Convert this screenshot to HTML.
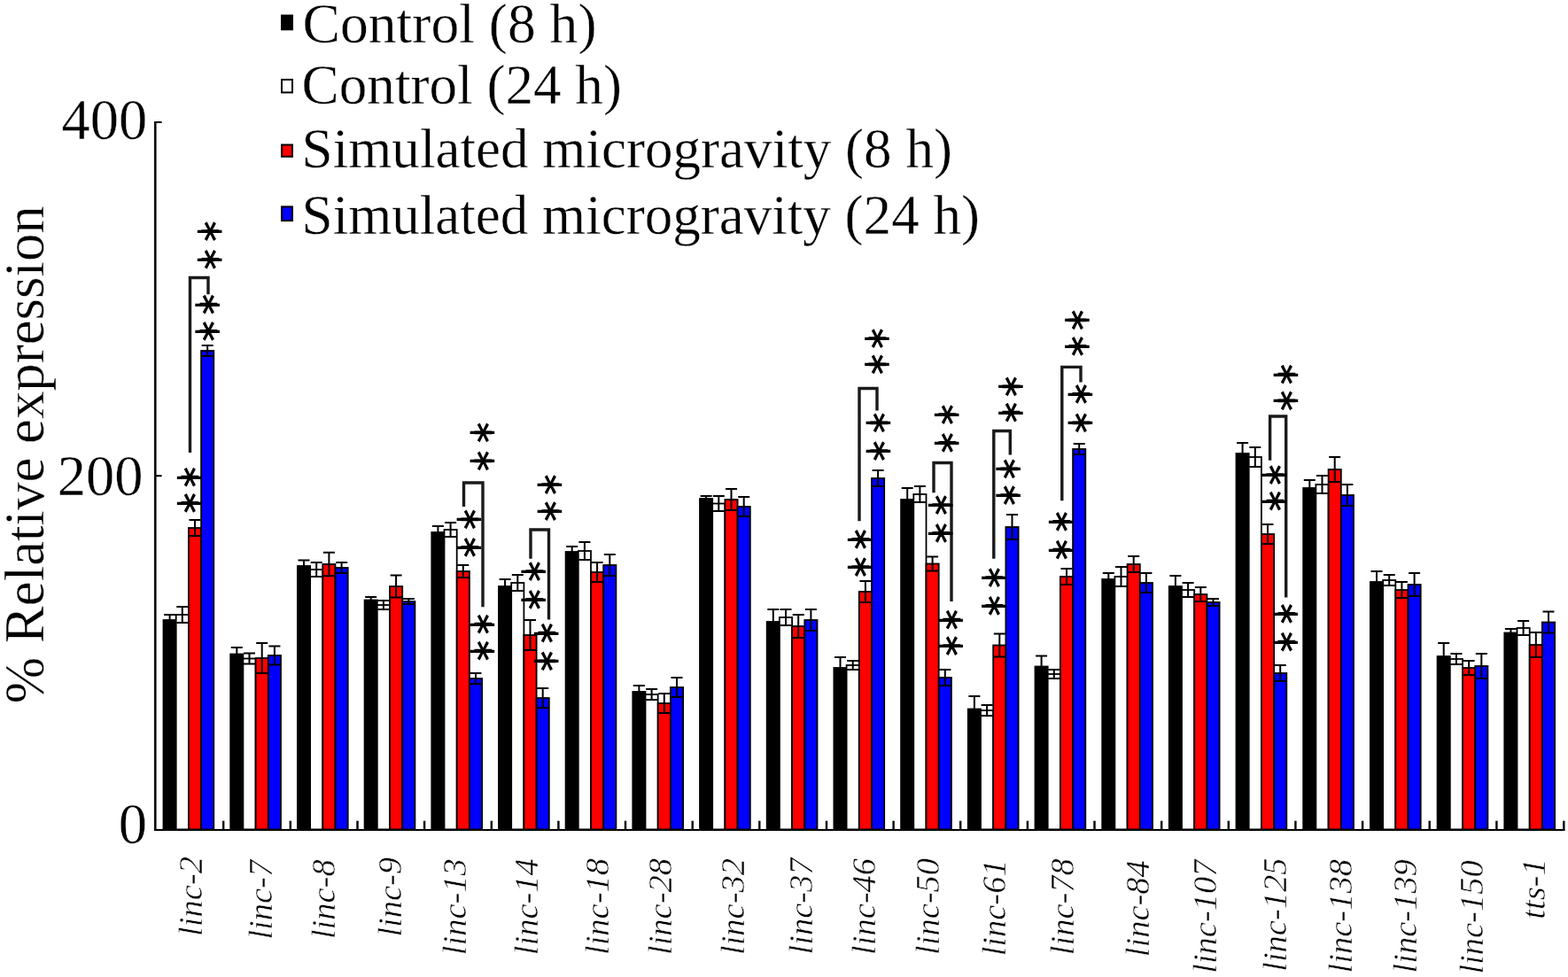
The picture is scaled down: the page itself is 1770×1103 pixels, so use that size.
<!DOCTYPE html><html><head><meta charset="utf-8"><title>Relative expression chart</title><style>
html,body{margin:0;padding:0;background:#fff;}svg{display:block;}
text{font-family:"Liberation Serif","Times New Roman",serif;fill:#000;}.big{stroke:#fff;stroke-width:0.4px;}
.st{font-family:"DejaVu Sans",sans-serif;stroke:#000;stroke-width:2.5px;}.sd{font-family:"DejaVu Sans",sans-serif;}
</style></head><body>
<svg width="1770" height="1103" viewBox="0 0 1770 1103">
<rect width="1770" height="1103" fill="#fff"/>
<rect x="318" y="17.5" width="12" height="15.8" fill="#000" stroke="#000" stroke-width="2"/>
<text class="big" x="341.6" y="48.2" font-size="62.6" textLength="332.0" lengthAdjust="spacingAndGlyphs">Control (8 h)</text>
<rect x="318" y="89.9" width="12" height="14.5" fill="#fff" stroke="#000" stroke-width="2"/>
<text class="big" x="340.6" y="116.8" font-size="62.6" textLength="361.4" lengthAdjust="spacingAndGlyphs">Control (24 h)</text>
<rect x="318" y="163.5" width="12" height="13.3" fill="#ff0000" stroke="#000" stroke-width="2"/>
<text class="big" x="340.6" y="188.6" font-size="62.6" textLength="734.4" lengthAdjust="spacingAndGlyphs">Simulated microgravity (8 h)</text>
<rect x="318" y="233.4" width="12" height="15.7" fill="#0000ff" stroke="#000" stroke-width="2"/>
<text class="big" x="340.6" y="263.5" font-size="62.6" textLength="765.4" lengthAdjust="spacingAndGlyphs">Simulated microgravity (24 h)</text>
<g stroke="#000" fill="none">
<line x1="175.3" y1="137" x2="175.3" y2="938" stroke-width="2.5"/>
<line x1="174" y1="937" x2="1766.5" y2="937" stroke-width="2.2"/>
<line x1="175" y1="138" x2="182.6" y2="138" stroke-width="2"/>
<line x1="175" y1="537.2" x2="182.6" y2="537.2" stroke-width="2"/>
<line x1="252.2" y1="926.7" x2="252.2" y2="937" stroke-width="2.4"/>
<line x1="327.8" y1="926.7" x2="327.8" y2="937" stroke-width="2.4"/>
<line x1="403.5" y1="926.7" x2="403.5" y2="937" stroke-width="2.4"/>
<line x1="479.1" y1="926.7" x2="479.1" y2="937" stroke-width="2.4"/>
<line x1="554.8" y1="926.7" x2="554.8" y2="937" stroke-width="2.4"/>
<line x1="630.4" y1="926.7" x2="630.4" y2="937" stroke-width="2.4"/>
<line x1="706.0" y1="926.7" x2="706.0" y2="937" stroke-width="2.4"/>
<line x1="781.7" y1="926.7" x2="781.7" y2="937" stroke-width="2.4"/>
<line x1="857.3" y1="926.7" x2="857.3" y2="937" stroke-width="2.4"/>
<line x1="933.0" y1="926.7" x2="933.0" y2="937" stroke-width="2.4"/>
<line x1="1008.6" y1="926.7" x2="1008.6" y2="937" stroke-width="2.4"/>
<line x1="1084.2" y1="926.7" x2="1084.2" y2="937" stroke-width="2.4"/>
<line x1="1159.9" y1="926.7" x2="1159.9" y2="937" stroke-width="2.4"/>
<line x1="1235.5" y1="926.7" x2="1235.5" y2="937" stroke-width="2.4"/>
<line x1="1311.2" y1="926.7" x2="1311.2" y2="937" stroke-width="2.4"/>
<line x1="1386.8" y1="926.7" x2="1386.8" y2="937" stroke-width="2.4"/>
<line x1="1462.4" y1="926.7" x2="1462.4" y2="937" stroke-width="2.4"/>
<line x1="1538.1" y1="926.7" x2="1538.1" y2="937" stroke-width="2.4"/>
<line x1="1613.7" y1="926.7" x2="1613.7" y2="937" stroke-width="2.4"/>
<line x1="1689.4" y1="926.7" x2="1689.4" y2="937" stroke-width="2.4"/>
<line x1="1765.3" y1="926.7" x2="1765.3" y2="937" stroke-width="2.4"/>
</g>
<text class="big" x="166.3" y="157.2" font-size="64.5" text-anchor="end">400</text>
<text class="big" x="161.5" y="558.6" font-size="64.5" text-anchor="end">200</text>
<text class="big" x="166" y="951.5" font-size="64.5" text-anchor="end">0</text>
<text class="big" transform="translate(48.9,794.2) rotate(-90)" font-size="62.6" textLength="562" lengthAdjust="spacingAndGlyphs">% Relative expression</text>
<g stroke="#000" stroke-width="1.8">
<rect x="184.5" y="700.0" width="14.2" height="236.4" fill="#000"/>
<rect x="198.7" y="694.0" width="14.2" height="242.4" fill="#fff"/>
<rect x="212.9" y="596.0" width="14.2" height="340.4" fill="#ff0000"/>
<rect x="227.1" y="396.0" width="14.2" height="540.4" fill="#0000ff"/>
<rect x="260.2" y="738.5" width="14.2" height="197.9" fill="#000"/>
<rect x="274.4" y="743.5" width="14.2" height="192.9" fill="#fff"/>
<rect x="288.6" y="743.0" width="14.2" height="193.4" fill="#ff0000"/>
<rect x="302.8" y="740.0" width="14.2" height="196.4" fill="#0000ff"/>
<rect x="335.9" y="639.0" width="14.2" height="297.4" fill="#000"/>
<rect x="350.1" y="643.0" width="14.2" height="293.4" fill="#fff"/>
<rect x="364.3" y="637.0" width="14.2" height="299.4" fill="#ff0000"/>
<rect x="378.5" y="641.0" width="14.2" height="295.4" fill="#0000ff"/>
<rect x="411.6" y="677.5" width="14.2" height="258.9" fill="#000"/>
<rect x="425.8" y="683.0" width="14.2" height="253.4" fill="#fff"/>
<rect x="440.0" y="662.0" width="14.2" height="274.4" fill="#ff0000"/>
<rect x="454.2" y="679.0" width="14.2" height="257.4" fill="#0000ff"/>
<rect x="487.3" y="601.0" width="14.2" height="335.4" fill="#000"/>
<rect x="501.5" y="598.0" width="14.2" height="338.4" fill="#fff"/>
<rect x="515.7" y="645.0" width="14.2" height="291.4" fill="#ff0000"/>
<rect x="529.9" y="766.0" width="14.2" height="170.4" fill="#0000ff"/>
<rect x="563.0" y="662.0" width="14.2" height="274.4" fill="#000"/>
<rect x="577.2" y="658.0" width="14.2" height="278.4" fill="#fff"/>
<rect x="591.4" y="717.0" width="14.2" height="219.4" fill="#ff0000"/>
<rect x="605.6" y="788.0" width="14.2" height="148.4" fill="#0000ff"/>
<rect x="638.6" y="623.0" width="14.2" height="313.4" fill="#000"/>
<rect x="652.8" y="622.0" width="14.2" height="314.4" fill="#fff"/>
<rect x="667.0" y="646.0" width="14.2" height="290.4" fill="#ff0000"/>
<rect x="681.2" y="638.0" width="14.2" height="298.4" fill="#0000ff"/>
<rect x="714.3" y="781.0" width="14.2" height="155.4" fill="#000"/>
<rect x="728.5" y="784.0" width="14.2" height="152.4" fill="#fff"/>
<rect x="742.7" y="794.0" width="14.2" height="142.4" fill="#ff0000"/>
<rect x="756.9" y="776.0" width="14.2" height="160.4" fill="#0000ff"/>
<rect x="790.0" y="563.0" width="14.2" height="373.4" fill="#000"/>
<rect x="804.2" y="568.5" width="14.2" height="367.9" fill="#fff"/>
<rect x="818.4" y="564.0" width="14.2" height="372.4" fill="#ff0000"/>
<rect x="832.6" y="572.0" width="14.2" height="364.4" fill="#0000ff"/>
<rect x="865.7" y="702.0" width="14.2" height="234.4" fill="#000"/>
<rect x="879.9" y="697.0" width="14.2" height="239.4" fill="#fff"/>
<rect x="894.1" y="707.0" width="14.2" height="229.4" fill="#ff0000"/>
<rect x="908.3" y="700.0" width="14.2" height="236.4" fill="#0000ff"/>
<rect x="941.4" y="754.0" width="14.2" height="182.4" fill="#000"/>
<rect x="955.6" y="751.0" width="14.2" height="185.4" fill="#fff"/>
<rect x="969.8" y="668.0" width="14.2" height="268.4" fill="#ff0000"/>
<rect x="984.0" y="540.0" width="14.2" height="396.4" fill="#0000ff"/>
<rect x="1017.1" y="564.0" width="14.2" height="372.4" fill="#000"/>
<rect x="1031.3" y="558.0" width="14.2" height="378.4" fill="#fff"/>
<rect x="1045.5" y="636.5" width="14.2" height="299.9" fill="#ff0000"/>
<rect x="1059.7" y="765.0" width="14.2" height="171.4" fill="#0000ff"/>
<rect x="1092.8" y="800.5" width="14.2" height="135.9" fill="#000"/>
<rect x="1107.0" y="802.0" width="14.2" height="134.4" fill="#fff"/>
<rect x="1121.2" y="728.5" width="14.2" height="207.9" fill="#ff0000"/>
<rect x="1135.4" y="595.0" width="14.2" height="341.4" fill="#0000ff"/>
<rect x="1168.5" y="752.5" width="14.2" height="183.9" fill="#000"/>
<rect x="1182.7" y="761.0" width="14.2" height="175.4" fill="#fff"/>
<rect x="1196.9" y="651.0" width="14.2" height="285.4" fill="#ff0000"/>
<rect x="1211.1" y="507.0" width="14.2" height="429.4" fill="#0000ff"/>
<rect x="1244.2" y="654.0" width="14.2" height="282.4" fill="#000"/>
<rect x="1258.4" y="651.0" width="14.2" height="285.4" fill="#fff"/>
<rect x="1272.6" y="637.0" width="14.2" height="299.4" fill="#ff0000"/>
<rect x="1286.8" y="658.0" width="14.2" height="278.4" fill="#0000ff"/>
<rect x="1319.8" y="662.0" width="14.2" height="274.4" fill="#000"/>
<rect x="1334.0" y="666.0" width="14.2" height="270.4" fill="#fff"/>
<rect x="1348.2" y="671.0" width="14.2" height="265.4" fill="#ff0000"/>
<rect x="1362.4" y="680.0" width="14.2" height="256.4" fill="#0000ff"/>
<rect x="1395.5" y="512.0" width="14.2" height="424.4" fill="#000"/>
<rect x="1409.7" y="516.0" width="14.2" height="420.4" fill="#fff"/>
<rect x="1423.9" y="603.0" width="14.2" height="333.4" fill="#ff0000"/>
<rect x="1438.1" y="760.0" width="14.2" height="176.4" fill="#0000ff"/>
<rect x="1471.2" y="551.0" width="14.2" height="385.4" fill="#000"/>
<rect x="1485.4" y="547.0" width="14.2" height="389.4" fill="#fff"/>
<rect x="1499.6" y="530.0" width="14.2" height="406.4" fill="#ff0000"/>
<rect x="1513.8" y="559.0" width="14.2" height="377.4" fill="#0000ff"/>
<rect x="1546.9" y="657.0" width="14.2" height="279.4" fill="#000"/>
<rect x="1561.1" y="655.0" width="14.2" height="281.4" fill="#fff"/>
<rect x="1575.3" y="666.0" width="14.2" height="270.4" fill="#ff0000"/>
<rect x="1589.5" y="660.0" width="14.2" height="276.4" fill="#0000ff"/>
<rect x="1622.6" y="741.0" width="14.2" height="195.4" fill="#000"/>
<rect x="1636.8" y="744.0" width="14.2" height="192.4" fill="#fff"/>
<rect x="1651.0" y="754.0" width="14.2" height="182.4" fill="#ff0000"/>
<rect x="1665.2" y="752.0" width="14.2" height="184.4" fill="#0000ff"/>
<rect x="1698.3" y="714.5" width="14.2" height="221.9" fill="#000"/>
<rect x="1712.5" y="709.0" width="14.2" height="227.4" fill="#fff"/>
<rect x="1726.7" y="728.0" width="14.2" height="208.4" fill="#ff0000"/>
<rect x="1740.9" y="702.5" width="14.2" height="233.9" fill="#0000ff"/>
</g>
<g stroke="#000" stroke-width="2" fill="none">
<path d="M191.6 694.0V706.0M185.1 694.0h13.0M185.1 706.0h13.0"/>
<path d="M205.8 685.0V703.0M199.3 685.0h13.0M199.3 703.0h13.0"/>
<path d="M220.0 587.0V605.0M213.5 587.0h13.0M213.5 605.0h13.0"/>
<path d="M234.2 390.0V402.0M227.7 390.0h13.0M227.7 402.0h13.0"/>
<path d="M267.3 731.0V746.0M260.8 731.0h13.0M260.8 746.0h13.0"/>
<path d="M281.5 737.5V749.5M275.0 737.5h13.0M275.0 749.5h13.0"/>
<path d="M295.7 726.0V760.0M289.2 726.0h13.0M289.2 760.0h13.0"/>
<path d="M309.9 729.5V750.5M303.4 729.5h13.0M303.4 750.5h13.0"/>
<path d="M343.0 632.6V645.4M336.5 632.6h13.0M336.5 645.4h13.0"/>
<path d="M357.2 635.0V651.0M350.7 635.0h13.0M350.7 651.0h13.0"/>
<path d="M371.4 623.7V650.3M364.9 623.7h13.0M364.9 650.3h13.0"/>
<path d="M385.6 635.0V647.0M379.1 635.0h13.0M379.1 647.0h13.0"/>
<path d="M418.7 674.0V681.0M412.2 674.0h13.0M412.2 681.0h13.0"/>
<path d="M432.9 678.0V688.0M426.4 678.0h13.0M426.4 688.0h13.0"/>
<path d="M447.1 649.5V674.5M440.6 649.5h13.0M440.6 674.5h13.0"/>
<path d="M461.3 676.0V682.0M454.8 676.0h13.0M454.8 682.0h13.0"/>
<path d="M494.4 594.0V608.0M487.9 594.0h13.0M487.9 608.0h13.0"/>
<path d="M508.6 590.0V606.0M502.1 590.0h13.0M502.1 606.0h13.0"/>
<path d="M522.8 638.0V652.0M516.3 638.0h13.0M516.3 652.0h13.0"/>
<path d="M537.0 760.0V772.0M530.5 760.0h13.0M530.5 772.0h13.0"/>
<path d="M570.1 654.0V670.0M563.6 654.0h13.0M563.6 670.0h13.0"/>
<path d="M584.3 649.0V667.0M577.8 649.0h13.0M577.8 667.0h13.0"/>
<path d="M598.5 700.0V734.0M592.0 700.0h13.0M592.0 734.0h13.0"/>
<path d="M612.7 777.0V799.0M606.2 777.0h13.0M606.2 799.0h13.0"/>
<path d="M645.7 617.0V629.0M639.2 617.0h13.0M639.2 629.0h13.0"/>
<path d="M659.9 612.0V632.0M653.4 612.0h13.0M653.4 632.0h13.0"/>
<path d="M674.1 635.0V657.0M667.6 635.0h13.0M667.6 657.0h13.0"/>
<path d="M688.3 626.0V650.0M681.8 626.0h13.0M681.8 650.0h13.0"/>
<path d="M721.4 774.0V788.0M714.9 774.0h13.0M714.9 788.0h13.0"/>
<path d="M735.6 778.0V790.0M729.1 778.0h13.0M729.1 790.0h13.0"/>
<path d="M749.8 783.0V805.0M743.3 783.0h13.0M743.3 805.0h13.0"/>
<path d="M764.0 765.0V787.0M757.5 765.0h13.0M757.5 787.0h13.0"/>
<path d="M797.1 560.0V566.0M790.6 560.0h13.0M790.6 566.0h13.0"/>
<path d="M811.3 560.0V577.0M804.8 560.0h13.0M804.8 577.0h13.0"/>
<path d="M825.5 552.0V576.0M819.0 552.0h13.0M819.0 576.0h13.0"/>
<path d="M839.7 561.0V583.0M833.2 561.0h13.0M833.2 583.0h13.0"/>
<path d="M872.8 688.0V716.0M866.3 688.0h13.0M866.3 716.0h13.0"/>
<path d="M887.0 688.0V706.0M880.5 688.0h13.0M880.5 706.0h13.0"/>
<path d="M901.2 694.0V720.0M894.7 694.0h13.0M894.7 720.0h13.0"/>
<path d="M915.4 688.0V712.0M908.9 688.0h13.0M908.9 712.0h13.0"/>
<path d="M948.5 742.0V766.0M942.0 742.0h13.0M942.0 766.0h13.0"/>
<path d="M962.7 746.0V756.0M956.2 746.0h13.0M956.2 756.0h13.0"/>
<path d="M976.9 656.0V680.0M970.4 656.0h13.0M970.4 680.0h13.0"/>
<path d="M991.1 531.0V549.0M984.6 531.0h13.0M984.6 549.0h13.0"/>
<path d="M1024.2 551.0V577.0M1017.7 551.0h13.0M1017.7 577.0h13.0"/>
<path d="M1038.4 549.0V567.0M1031.9 549.0h13.0M1031.9 567.0h13.0"/>
<path d="M1052.6 628.5V644.5M1046.1 628.5h13.0M1046.1 644.5h13.0"/>
<path d="M1066.8 756.0V774.0M1060.3 756.0h13.0M1060.3 774.0h13.0"/>
<path d="M1099.9 786.0V815.0M1093.4 786.0h13.0M1093.4 815.0h13.0"/>
<path d="M1114.1 796.0V808.0M1107.6 796.0h13.0M1107.6 808.0h13.0"/>
<path d="M1128.3 715.5V741.5M1121.8 715.5h13.0M1121.8 741.5h13.0"/>
<path d="M1142.5 581.0V609.0M1136.0 581.0h13.0M1136.0 609.0h13.0"/>
<path d="M1175.6 740.5V764.5M1169.1 740.5h13.0M1169.1 764.5h13.0"/>
<path d="M1189.8 756.0V766.0M1183.3 756.0h13.0M1183.3 766.0h13.0"/>
<path d="M1204.0 642.0V660.0M1197.5 642.0h13.0M1197.5 660.0h13.0"/>
<path d="M1218.2 501.0V513.0M1211.7 501.0h13.0M1211.7 513.0h13.0"/>
<path d="M1251.3 647.0V661.0M1244.8 647.0h13.0M1244.8 661.0h13.0"/>
<path d="M1265.5 640.0V662.0M1259.0 640.0h13.0M1259.0 662.0h13.0"/>
<path d="M1279.7 628.0V646.0M1273.2 628.0h13.0M1273.2 646.0h13.0"/>
<path d="M1293.9 647.0V669.0M1287.4 647.0h13.0M1287.4 669.0h13.0"/>
<path d="M1326.9 650.0V674.0M1320.4 650.0h13.0M1320.4 674.0h13.0"/>
<path d="M1341.1 658.0V674.0M1334.6 658.0h13.0M1334.6 674.0h13.0"/>
<path d="M1355.3 663.0V679.0M1348.8 663.0h13.0M1348.8 679.0h13.0"/>
<path d="M1369.5 676.0V684.0M1363.0 676.0h13.0M1363.0 684.0h13.0"/>
<path d="M1402.6 500.0V524.0M1396.1 500.0h13.0M1396.1 524.0h13.0"/>
<path d="M1416.8 505.0V527.0M1410.3 505.0h13.0M1410.3 527.0h13.0"/>
<path d="M1431.0 592.0V614.0M1424.5 592.0h13.0M1424.5 614.0h13.0"/>
<path d="M1445.2 751.0V769.0M1438.7 751.0h13.0M1438.7 769.0h13.0"/>
<path d="M1478.3 542.0V560.0M1471.8 542.0h13.0M1471.8 560.0h13.0"/>
<path d="M1492.5 537.0V557.0M1486.0 537.0h13.0M1486.0 557.0h13.0"/>
<path d="M1506.7 516.0V544.0M1500.2 516.0h13.0M1500.2 544.0h13.0"/>
<path d="M1520.9 547.0V571.0M1514.4 547.0h13.0M1514.4 571.0h13.0"/>
<path d="M1554.0 645.0V669.0M1547.5 645.0h13.0M1547.5 669.0h13.0"/>
<path d="M1568.2 649.0V661.0M1561.7 649.0h13.0M1561.7 661.0h13.0"/>
<path d="M1582.4 657.0V675.0M1575.9 657.0h13.0M1575.9 675.0h13.0"/>
<path d="M1596.6 647.0V673.0M1590.1 647.0h13.0M1590.1 673.0h13.0"/>
<path d="M1629.7 726.0V756.0M1623.2 726.0h13.0M1623.2 756.0h13.0"/>
<path d="M1643.9 738.0V750.0M1637.4 738.0h13.0M1637.4 750.0h13.0"/>
<path d="M1658.1 746.0V762.0M1651.6 746.0h13.0M1651.6 762.0h13.0"/>
<path d="M1672.3 738.0V766.0M1665.8 738.0h13.0M1665.8 766.0h13.0"/>
<path d="M1705.4 710.0V719.0M1698.9 710.0h13.0M1698.9 719.0h13.0"/>
<path d="M1719.6 701.0V717.0M1713.1 701.0h13.0M1713.1 717.0h13.0"/>
<path d="M1733.8 714.0V742.0M1727.3 714.0h13.0M1727.3 742.0h13.0"/>
<path d="M1748.0 690.5V714.5M1741.5 690.5h13.0M1741.5 714.5h13.0"/>
</g>
<g stroke="#1a1a1a" stroke-width="3.4" fill="none">
<path d="M214.5 510.9V313.5H235V332.2"/>
<path d="M523.5 572V545H545V685.2"/>
<path d="M599 630.7V598H619.5V699.6"/>
<path d="M970 588.3V438.5H990V463.4"/>
<path d="M1054 556.3V522.5H1074V679"/>
<path d="M1121.8 630.7V486.5H1140.3V513.4"/>
<path d="M1198.8 565.3V414.4H1220V431.6"/>
<path d="M1433.6 519.7V470H1451.7V674.4"/>
</g>
<g transform="translate(236.6,261.2)"><text class="st" transform="scale(0.4,0.456) rotate(90)" font-size="100" text-anchor="middle" dy="0.5145em">*</text><text class="sd" transform="scale(0.686,0.47)" font-size="100" text-anchor="middle" dy="0.2745em">–</text></g>
<g transform="translate(236.6,293)"><text class="st" transform="scale(0.4,0.456) rotate(90)" font-size="100" text-anchor="middle" dy="0.5145em">*</text><text class="sd" transform="scale(0.686,0.47)" font-size="100" text-anchor="middle" dy="0.2745em">–</text></g>
<g transform="translate(234.2,343.7)"><text class="st" transform="scale(0.4,0.456) rotate(90)" font-size="100" text-anchor="middle" dy="0.5145em">*</text><text class="sd" transform="scale(0.686,0.47)" font-size="100" text-anchor="middle" dy="0.2745em">–</text></g>
<g transform="translate(234.2,374)"><text class="st" transform="scale(0.4,0.456) rotate(90)" font-size="100" text-anchor="middle" dy="0.5145em">*</text><text class="sd" transform="scale(0.686,0.47)" font-size="100" text-anchor="middle" dy="0.2745em">–</text></g>
<g transform="translate(213.7,538.7)"><text class="st" transform="scale(0.4,0.456) rotate(90)" font-size="100" text-anchor="middle" dy="0.5145em">*</text><text class="sd" transform="scale(0.686,0.47)" font-size="100" text-anchor="middle" dy="0.2745em">–</text></g>
<g transform="translate(213.7,568)"><text class="st" transform="scale(0.4,0.456) rotate(90)" font-size="100" text-anchor="middle" dy="0.5145em">*</text><text class="sd" transform="scale(0.686,0.47)" font-size="100" text-anchor="middle" dy="0.2745em">–</text></g>
<g transform="translate(544.3,488.3)"><text class="st" transform="scale(0.4,0.456) rotate(90)" font-size="100" text-anchor="middle" dy="0.5145em">*</text><text class="sd" transform="scale(0.686,0.47)" font-size="100" text-anchor="middle" dy="0.2745em">–</text></g>
<g transform="translate(544.3,520.4)"><text class="st" transform="scale(0.4,0.456) rotate(90)" font-size="100" text-anchor="middle" dy="0.5145em">*</text><text class="sd" transform="scale(0.686,0.47)" font-size="100" text-anchor="middle" dy="0.2745em">–</text></g>
<g transform="translate(529.4,586.3)"><text class="st" transform="scale(0.4,0.456) rotate(90)" font-size="100" text-anchor="middle" dy="0.5145em">*</text><text class="sd" transform="scale(0.686,0.47)" font-size="100" text-anchor="middle" dy="0.2745em">–</text></g>
<g transform="translate(529.4,618)"><text class="st" transform="scale(0.4,0.456) rotate(90)" font-size="100" text-anchor="middle" dy="0.5145em">*</text><text class="sd" transform="scale(0.686,0.47)" font-size="100" text-anchor="middle" dy="0.2745em">–</text></g>
<g transform="translate(544.4,704.6)"><text class="st" transform="scale(0.4,0.456) rotate(90)" font-size="100" text-anchor="middle" dy="0.5145em">*</text><text class="sd" transform="scale(0.686,0.47)" font-size="100" text-anchor="middle" dy="0.2745em">–</text></g>
<g transform="translate(544.4,734.7)"><text class="st" transform="scale(0.4,0.456) rotate(90)" font-size="100" text-anchor="middle" dy="0.5145em">*</text><text class="sd" transform="scale(0.686,0.47)" font-size="100" text-anchor="middle" dy="0.2745em">–</text></g>
<g transform="translate(620.4,547.2)"><text class="st" transform="scale(0.4,0.456) rotate(90)" font-size="100" text-anchor="middle" dy="0.5145em">*</text><text class="sd" transform="scale(0.686,0.47)" font-size="100" text-anchor="middle" dy="0.2745em">–</text></g>
<g transform="translate(620.4,577.2)"><text class="st" transform="scale(0.4,0.456) rotate(90)" font-size="100" text-anchor="middle" dy="0.5145em">*</text><text class="sd" transform="scale(0.686,0.47)" font-size="100" text-anchor="middle" dy="0.2745em">–</text></g>
<g transform="translate(602.2,645.2)"><text class="st" transform="scale(0.4,0.456) rotate(90)" font-size="100" text-anchor="middle" dy="0.5145em">*</text><text class="sd" transform="scale(0.686,0.47)" font-size="100" text-anchor="middle" dy="0.2745em">–</text></g>
<g transform="translate(602.2,676.9)"><text class="st" transform="scale(0.4,0.456) rotate(90)" font-size="100" text-anchor="middle" dy="0.5145em">*</text><text class="sd" transform="scale(0.686,0.47)" font-size="100" text-anchor="middle" dy="0.2745em">–</text></g>
<g transform="translate(616.7,714.6)"><text class="st" transform="scale(0.4,0.456) rotate(90)" font-size="100" text-anchor="middle" dy="0.5145em">*</text><text class="sd" transform="scale(0.686,0.47)" font-size="100" text-anchor="middle" dy="0.2745em">–</text></g>
<g transform="translate(616.7,746.5)"><text class="st" transform="scale(0.4,0.456) rotate(90)" font-size="100" text-anchor="middle" dy="0.5145em">*</text><text class="sd" transform="scale(0.686,0.47)" font-size="100" text-anchor="middle" dy="0.2745em">–</text></g>
<g transform="translate(989.9,382.2)"><text class="st" transform="scale(0.4,0.456) rotate(90)" font-size="100" text-anchor="middle" dy="0.5145em">*</text><text class="sd" transform="scale(0.686,0.47)" font-size="100" text-anchor="middle" dy="0.2745em">–</text></g>
<g transform="translate(989.9,411.3)"><text class="st" transform="scale(0.4,0.456) rotate(90)" font-size="100" text-anchor="middle" dy="0.5145em">*</text><text class="sd" transform="scale(0.686,0.47)" font-size="100" text-anchor="middle" dy="0.2745em">–</text></g>
<g transform="translate(991.3,477.5)"><text class="st" transform="scale(0.4,0.456) rotate(90)" font-size="100" text-anchor="middle" dy="0.5145em">*</text><text class="sd" transform="scale(0.686,0.47)" font-size="100" text-anchor="middle" dy="0.2745em">–</text></g>
<g transform="translate(991.3,509.2)"><text class="st" transform="scale(0.4,0.456) rotate(90)" font-size="100" text-anchor="middle" dy="0.5145em">*</text><text class="sd" transform="scale(0.686,0.47)" font-size="100" text-anchor="middle" dy="0.2745em">–</text></g>
<g transform="translate(970.7,609)"><text class="st" transform="scale(0.4,0.456) rotate(90)" font-size="100" text-anchor="middle" dy="0.5145em">*</text><text class="sd" transform="scale(0.686,0.47)" font-size="100" text-anchor="middle" dy="0.2745em">–</text></g>
<g transform="translate(970.7,640.2)"><text class="st" transform="scale(0.4,0.456) rotate(90)" font-size="100" text-anchor="middle" dy="0.5145em">*</text><text class="sd" transform="scale(0.686,0.47)" font-size="100" text-anchor="middle" dy="0.2745em">–</text></g>
<g transform="translate(1068.6,468.1)"><text class="st" transform="scale(0.4,0.456) rotate(90)" font-size="100" text-anchor="middle" dy="0.5145em">*</text><text class="sd" transform="scale(0.686,0.47)" font-size="100" text-anchor="middle" dy="0.2745em">–</text></g>
<g transform="translate(1068.6,499.9)"><text class="st" transform="scale(0.4,0.456) rotate(90)" font-size="100" text-anchor="middle" dy="0.5145em">*</text><text class="sd" transform="scale(0.686,0.47)" font-size="100" text-anchor="middle" dy="0.2745em">–</text></g>
<g transform="translate(1061.7,570.2)"><text class="st" transform="scale(0.4,0.456) rotate(90)" font-size="100" text-anchor="middle" dy="0.5145em">*</text><text class="sd" transform="scale(0.686,0.47)" font-size="100" text-anchor="middle" dy="0.2745em">–</text></g>
<g transform="translate(1061.7,601.9)"><text class="st" transform="scale(0.4,0.456) rotate(90)" font-size="100" text-anchor="middle" dy="0.5145em">*</text><text class="sd" transform="scale(0.686,0.47)" font-size="100" text-anchor="middle" dy="0.2745em">–</text></g>
<g transform="translate(1073.2,699.7)"><text class="st" transform="scale(0.4,0.456) rotate(90)" font-size="100" text-anchor="middle" dy="0.5145em">*</text><text class="sd" transform="scale(0.686,0.47)" font-size="100" text-anchor="middle" dy="0.2745em">–</text></g>
<g transform="translate(1073.2,729.2)"><text class="st" transform="scale(0.4,0.456) rotate(90)" font-size="100" text-anchor="middle" dy="0.5145em">*</text><text class="sd" transform="scale(0.686,0.47)" font-size="100" text-anchor="middle" dy="0.2745em">–</text></g>
<g transform="translate(1140.8,436.3)"><text class="st" transform="scale(0.4,0.456) rotate(90)" font-size="100" text-anchor="middle" dy="0.5145em">*</text><text class="sd" transform="scale(0.686,0.47)" font-size="100" text-anchor="middle" dy="0.2745em">–</text></g>
<g transform="translate(1140.8,465.7)"><text class="st" transform="scale(0.4,0.456) rotate(90)" font-size="100" text-anchor="middle" dy="0.5145em">*</text><text class="sd" transform="scale(0.686,0.47)" font-size="100" text-anchor="middle" dy="0.2745em">–</text></g>
<g transform="translate(1138.1,529.3)"><text class="st" transform="scale(0.4,0.456) rotate(90)" font-size="100" text-anchor="middle" dy="0.5145em">*</text><text class="sd" transform="scale(0.686,0.47)" font-size="100" text-anchor="middle" dy="0.2745em">–</text></g>
<g transform="translate(1138.1,559.2)"><text class="st" transform="scale(0.4,0.456) rotate(90)" font-size="100" text-anchor="middle" dy="0.5145em">*</text><text class="sd" transform="scale(0.686,0.47)" font-size="100" text-anchor="middle" dy="0.2745em">–</text></g>
<g transform="translate(1121.9,652.2)"><text class="st" transform="scale(0.4,0.456) rotate(90)" font-size="100" text-anchor="middle" dy="0.5145em">*</text><text class="sd" transform="scale(0.686,0.47)" font-size="100" text-anchor="middle" dy="0.2745em">–</text></g>
<g transform="translate(1121.9,683.9)"><text class="st" transform="scale(0.4,0.456) rotate(90)" font-size="100" text-anchor="middle" dy="0.5145em">*</text><text class="sd" transform="scale(0.686,0.47)" font-size="100" text-anchor="middle" dy="0.2745em">–</text></g>
<g transform="translate(1215.8,361.3)"><text class="st" transform="scale(0.4,0.456) rotate(90)" font-size="100" text-anchor="middle" dy="0.5145em">*</text><text class="sd" transform="scale(0.686,0.47)" font-size="100" text-anchor="middle" dy="0.2745em">–</text></g>
<g transform="translate(1215.8,390.8)"><text class="st" transform="scale(0.4,0.456) rotate(90)" font-size="100" text-anchor="middle" dy="0.5145em">*</text><text class="sd" transform="scale(0.686,0.47)" font-size="100" text-anchor="middle" dy="0.2745em">–</text></g>
<g transform="translate(1219.4,444.8)"><text class="st" transform="scale(0.4,0.456) rotate(90)" font-size="100" text-anchor="middle" dy="0.5145em">*</text><text class="sd" transform="scale(0.686,0.47)" font-size="100" text-anchor="middle" dy="0.2745em">–</text></g>
<g transform="translate(1219.4,477.5)"><text class="st" transform="scale(0.4,0.456) rotate(90)" font-size="100" text-anchor="middle" dy="0.5145em">*</text><text class="sd" transform="scale(0.686,0.47)" font-size="100" text-anchor="middle" dy="0.2745em">–</text></g>
<g transform="translate(1197.7,588.8)"><text class="st" transform="scale(0.4,0.456) rotate(90)" font-size="100" text-anchor="middle" dy="0.5145em">*</text><text class="sd" transform="scale(0.686,0.47)" font-size="100" text-anchor="middle" dy="0.2745em">–</text></g>
<g transform="translate(1197.7,620.6)"><text class="st" transform="scale(0.4,0.456) rotate(90)" font-size="100" text-anchor="middle" dy="0.5145em">*</text><text class="sd" transform="scale(0.686,0.47)" font-size="100" text-anchor="middle" dy="0.2745em">–</text></g>
<g transform="translate(1451.3,422.7)"><text class="st" transform="scale(0.4,0.456) rotate(90)" font-size="100" text-anchor="middle" dy="0.5145em">*</text><text class="sd" transform="scale(0.686,0.47)" font-size="100" text-anchor="middle" dy="0.2745em">–</text></g>
<g transform="translate(1451.3,452.5)"><text class="st" transform="scale(0.4,0.456) rotate(90)" font-size="100" text-anchor="middle" dy="0.5145em">*</text><text class="sd" transform="scale(0.686,0.47)" font-size="100" text-anchor="middle" dy="0.2745em">–</text></g>
<g transform="translate(1438.1,536.1)"><text class="st" transform="scale(0.4,0.456) rotate(90)" font-size="100" text-anchor="middle" dy="0.5145em">*</text><text class="sd" transform="scale(0.686,0.47)" font-size="100" text-anchor="middle" dy="0.2745em">–</text></g>
<g transform="translate(1438.1,565.6)"><text class="st" transform="scale(0.4,0.456) rotate(90)" font-size="100" text-anchor="middle" dy="0.5145em">*</text><text class="sd" transform="scale(0.686,0.47)" font-size="100" text-anchor="middle" dy="0.2745em">–</text></g>
<g transform="translate(1451.2,693)"><text class="st" transform="scale(0.4,0.456) rotate(90)" font-size="100" text-anchor="middle" dy="0.5145em">*</text><text class="sd" transform="scale(0.686,0.47)" font-size="100" text-anchor="middle" dy="0.2745em">–</text></g>
<g transform="translate(1451.2,724.7)"><text class="st" transform="scale(0.4,0.456) rotate(90)" font-size="100" text-anchor="middle" dy="0.5145em">*</text><text class="sd" transform="scale(0.686,0.47)" font-size="100" text-anchor="middle" dy="0.2745em">–</text></g>
<text transform="translate(227.7,967.1) rotate(-90)" font-size="38.5" font-style="italic" text-anchor="end" stroke="#fff" stroke-width="0.5">linc-2</text>
<text transform="translate(306.7,970.8) rotate(-90)" font-size="38.5" font-style="italic" text-anchor="end" stroke="#fff" stroke-width="0.5">linc-7</text>
<text transform="translate(378.0,970.3) rotate(-90)" font-size="38.5" font-style="italic" text-anchor="end" stroke="#fff" stroke-width="0.5">linc-8</text>
<text transform="translate(452.7,967.8) rotate(-90)" font-size="38.5" font-style="italic" text-anchor="end" stroke="#fff" stroke-width="0.5">linc-9</text>
<text transform="translate(526.2,969.2) rotate(-90)" font-size="38.5" font-style="italic" text-anchor="end" stroke="#fff" stroke-width="0.5">linc-13</text>
<text transform="translate(606.8,969.2) rotate(-90)" font-size="38.5" font-style="italic" text-anchor="end" stroke="#fff" stroke-width="0.5">linc-14</text>
<text transform="translate(687.3,969.0) rotate(-90)" font-size="38.5" font-style="italic" text-anchor="end" stroke="#fff" stroke-width="0.5">linc-18</text>
<text transform="translate(758.3,969.0) rotate(-90)" font-size="38.5" font-style="italic" text-anchor="end" stroke="#fff" stroke-width="0.5">linc-28</text>
<text transform="translate(839.7,969.0) rotate(-90)" font-size="38.5" font-style="italic" text-anchor="end" stroke="#fff" stroke-width="0.5">linc-32</text>
<text transform="translate(916.8,968.4) rotate(-90)" font-size="38.5" font-style="italic" text-anchor="end" stroke="#fff" stroke-width="0.5">linc-37</text>
<text transform="translate(987.7,968.9) rotate(-90)" font-size="38.5" font-style="italic" text-anchor="end" stroke="#fff" stroke-width="0.5">linc-46</text>
<text transform="translate(1059.5,968.9) rotate(-90)" font-size="38.5" font-style="italic" text-anchor="end" stroke="#fff" stroke-width="0.5">linc-50</text>
<text transform="translate(1135.1,970.3) rotate(-90)" font-size="38.5" font-style="italic" text-anchor="end" stroke="#fff" stroke-width="0.5">linc-61</text>
<text transform="translate(1212.1,969.2) rotate(-90)" font-size="38.5" font-style="italic" text-anchor="end" stroke="#fff" stroke-width="0.5">linc-78</text>
<text transform="translate(1297.1,971.2) rotate(-90)" font-size="38.5" font-style="italic" text-anchor="end" stroke="#fff" stroke-width="0.5">linc-84</text>
<text transform="translate(1373.3,970.5) rotate(-90)" font-size="38.5" font-style="italic" text-anchor="end" stroke="#fff" stroke-width="0.5">linc-107</text>
<text transform="translate(1451.6,968.5) rotate(-90)" font-size="38.5" font-style="italic" text-anchor="end" stroke="#fff" stroke-width="0.5">linc-125</text>
<text transform="translate(1525.6,970.1) rotate(-90)" font-size="38.5" font-style="italic" text-anchor="end" stroke="#fff" stroke-width="0.5">linc-138</text>
<text transform="translate(1598.6,970.1) rotate(-90)" font-size="38.5" font-style="italic" text-anchor="end" stroke="#fff" stroke-width="0.5">linc-139</text>
<text transform="translate(1673.8,971.3) rotate(-90)" font-size="38.5" font-style="italic" text-anchor="end" stroke="#fff" stroke-width="0.5">linc-150</text>
<text transform="translate(1743.5,969.3) rotate(-90)" font-size="38.5" font-style="italic" text-anchor="end" stroke="#fff" stroke-width="0.5">tts-1</text>
</svg></body></html>
